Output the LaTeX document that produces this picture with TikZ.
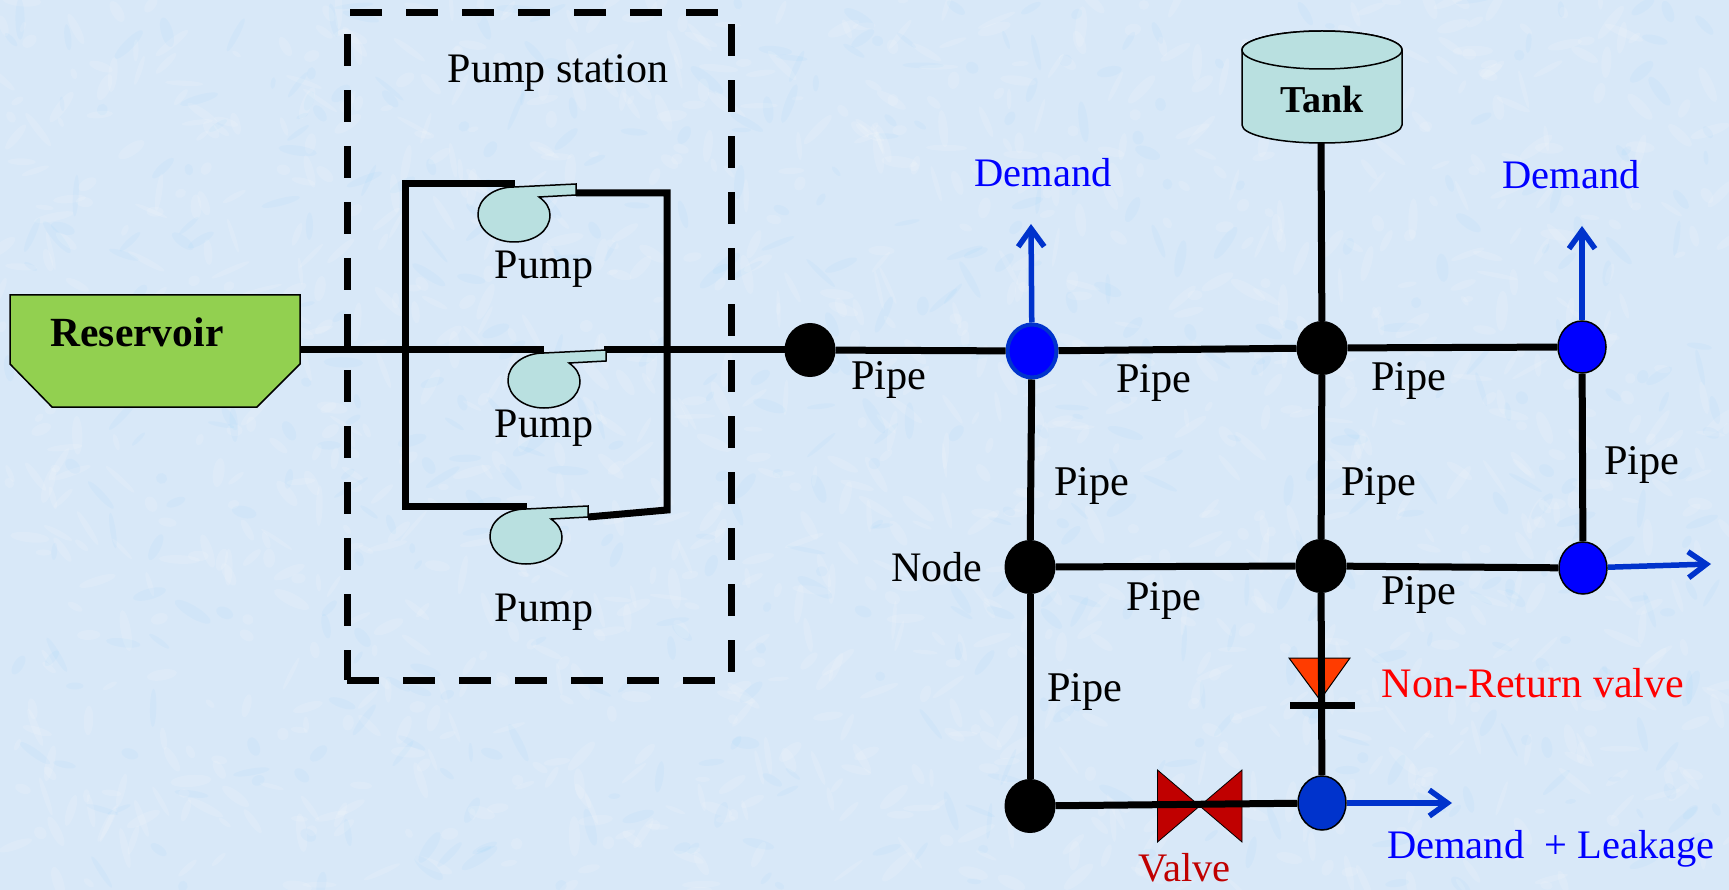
\documentclass[tikz,border=0pt]{standalone}
\usepackage{fontspec}
\setmainfont{Liberation Serif}
\usetikzlibrary{shapes.geometric,arrows.meta}
\definecolor{bgblue}{RGB}{216,232,248}
\definecolor{flowblue}{RGB}{0,51,204}
\definecolor{pureblue}{RGB}{0,0,255}
\definecolor{valvered}{RGB}{192,0,0}
\definecolor{nrvred}{RGB}{255,60,0}
\definecolor{tealfill}{RGB}{185,224,224}
\definecolor{resgreen}{RGB}{146,208,80}
\newcommand{\bigtext}{\fontsize{42}{43}\selectfont}
\newcommand{\demandtext}{\fontsize{40.5}{41}\selectfont}
\newcommand{\pipetext}{\fontsize{42.3}{44}\selectfont}
\newcommand{\boldtext}{\fontsize{38}{39}\selectfont\bfseries}
\newcommand{\resbold}{\fontsize{41.5}{42}\selectfont\bfseries}
\tikzset{
  pipe/.style={line width=7pt,black},
  flow/.style={line width=5.5pt,flowblue,-{Straight Barb[length=18pt,width=26pt,line width=5.5pt]}},
  blacknode/.style={ellipse,fill=black,draw=black,line width=1pt,inner sep=0pt,minimum width=50pt,minimum height=53pt},
  bluenode/.style={ellipse,fill=pureblue,draw=black,line width=1.5pt,inner sep=0pt,minimum width=48pt,minimum height=52pt},
  lbl/.style={anchor=base,inner sep=0pt,font=\bigtext},
  demandlbl/.style={anchor=base,inner sep=0pt,font=\demandtext,text=pureblue},
  pipelbl/.style={anchor=base,inner sep=0pt,font=\pipetext},
  boldlbl/.style={anchor=base,inner sep=0pt,font=\boldtext},
  pumpshape/.pic={
    \path[draw=black,fill=tealfill,line width=1.5pt]
      (0,0) -- (62,-3) -- (62,8) -- (25,10)
      .. controls (32,15) and (36,21) .. (36,28)
      .. controls (36,44) and (20,55) .. (0,55)
      .. controls (-20,55) and (-36,43) .. (-36,27)
      .. controls (-36,12) and (-20,0) .. (0,0) -- cycle;
  }
}
\begin{document}
\begin{tikzpicture}[x=1pt,y=-1pt]
\useasboundingbox (0,0) rectangle (1729,890);
\fill[bgblue] (0,0) rectangle (1729,890);
\pgfmathsetseed{4217}
\foreach \i in {1,...,1800}{
  \pgfmathsetmacro{\px}{rnd*1729}
  \pgfmathsetmacro{\py}{rnd*890}
  \pgfmathsetmacro{\ra}{5+rnd*16}
  \pgfmathsetmacro{\rb}{2+rnd*4}
  \pgfmathsetmacro{\rt}{rnd*180}
  \pgfmathsetmacro{\kind}{rnd}
  \ifdim\kind pt<0.7pt
    \fill[white,opacity=.13,rotate around={\rt:(\px,\py)}] (\px,\py) ellipse [x radius=\ra,y radius=\rb];
  \else
    \fill[blue!35!cyan,opacity=.03,rotate around={\rt:(\px,\py)}] (\px,\py) ellipse [x radius=\ra,y radius=\rb];
  \fi
}
\clip (0,0) rectangle (1729,890);

% pump station box
\node[draw=black,line width=7pt,dash pattern=on 32pt off 24pt,rectangle,inner sep=0pt,minimum width=384pt,minimum height=667pt] (station) at (539,346.5) {};
\node[lbl] (stationlabel) at (558,83) {Pump station};

% reservoir
\path[draw=black,fill=resgreen,line width=1.5pt] (10,295) -- (300,295) -- (300,364) -- (257,407) -- (52,407) -- (10,364) -- cycle;
\node[anchor=base,inner sep=0pt,font=\resbold] (reslabel) at (137,347) {Reservoir};
\coordinate (resout) at (300,350);

% junction nodes
\node[blacknode] (n0) at (810,350) {};
\node[bluenode,draw=flowblue,line width=4pt,minimum width=49pt,minimum height=53pt] (n1) at (1032,351) {};
\node[blacknode] (n2) at (1322,348) {};
\node[bluenode] (n3) at (1582,347) {};
\node[blacknode] (n4) at (1030,567) {};
\node[blacknode] (n5) at (1321,566) {};
\node[bluenode] (n6) at (1583,568) {};
\node[blacknode] (n7) at (1030,806) {};
\node[bluenode,fill=flowblue,minimum height=54pt] (n8) at (1322,803) {};

% tank
\path[draw=black,fill=tealfill,line width=1.5pt] (1242,50) -- (1242,125) arc[start angle=180,end angle=360,x radius=80,y radius=-18] -- (1402,50) arc[start angle=0,end angle=180,x radius=80,y radius=-19] -- cycle;
\path[draw=black,fill=tealfill,line width=1.5pt] (1322,50) ellipse [x radius=80,y radius=19];
\node[boldlbl] (tanklabel) at (1322,113) {Tank};
\coordinate (tankout) at (1321,143);

% pump station pipes
\coordinate (tl) at (405,184);
\coordinate (tr) at (667,193);
\coordinate (bl) at (405,506);
\coordinate (br) at (667,510);
\coordinate (p1in) at (515,184);
\coordinate (p1out) at (576,193);
\coordinate (p2in) at (544,350);
\coordinate (p2out) at (604,350);
\coordinate (p3in) at (527,506);
\coordinate (p3out) at (588,517);
\draw[pipe,line join=miter] (p1in) -- (tl) -- (bl) -- (p3in);
\draw[pipe,line join=miter] (p1out) -- (tr) -- (br) -- (p3out);
\draw[pipe] (resout) -- (p2in);
\draw[pipe] (p2out) -- (n0);
\pic at (514,187) {pumpshape};
\pic at (544,353) {pumpshape};
\pic at (526,509) {pumpshape};
\node[lbl] (pl1) at (544,279) {Pump};
\node[lbl] (pl2) at (544,437) {Pump};
\node[lbl] (pl3) at (544,621) {Pump};

% network pipes
\draw[pipe] (n0) -- (n1);
\draw[pipe] (n1) -- (n2);
\draw[pipe] (n2) -- (n3);
\draw[pipe] (tankout) -- (n2);
\draw[pipe] (n1) -- (n4);
\draw[pipe] (n2) -- (n5);
\draw[pipe] (n3) -- (n6);
\draw[pipe] (n4) -- (n5);
\draw[pipe] (n5) -- (n6);
\draw[pipe] (n4) -- (n7);

% valve (under the pipe)
\path[draw=black,fill=valvered,line width=.8pt] (1157.5,770) -- (1242,842) -- (1242,770) -- (1157.5,842) -- cycle;
\draw[pipe] (n7) -- (n8);

% non-return valve
\path[draw=black,fill=nrvred,line width=1pt] (1289,658) -- (1350,658) -- (1320,700) -- cycle;
\draw[pipe] (n5) -- (n8);
\coordinate (barl) at (1290,705);
\coordinate (barr) at (1355,705);
\draw[pipe] (barl) -- (barr);

% demand arrows
\coordinate (d1) at (1031,224);
\coordinate (d2) at (1582,226);
\coordinate (d3) at (1711,564);
\coordinate (d4) at (1452,803);
\draw[flow] (n1) -- (d1);
\draw[flow] (n3) -- (d2);
\draw[flow] (n6) -- (d3);
\draw[flow] (n8) -- (d4);

% labels
\node[demandlbl] (dl1) at (1043,187) {Demand};
\node[demandlbl] (dl2) at (1571,189) {Demand};
\node[demandlbl] (dl3) at (1551,858) {Demand\ \ + Leakage};
\node[lbl,text=red] (nrvl) at (1533,697) {Non-Return valve};
\node[demandlbl,text=valvered] (vl) at (1184.5,881) {Valve};
\node[lbl] (nodel) at (937,581) {Node};
\node[pipelbl] (a1) at (889,389) {Pipe};
\node[pipelbl] (a2) at (1154,392) {Pipe};
\node[pipelbl] (a3) at (1409,391) {Pipe};
\node[pipelbl] (a4) at (1092,495) {Pipe};
\node[pipelbl] (a5) at (1379,495) {Pipe};
\node[pipelbl] (a6) at (1642,474) {Pipe};
\node[pipelbl] (a7) at (1164,610) {Pipe};
\node[pipelbl] (a8) at (1419,604) {Pipe};
\node[pipelbl] (a9) at (1085,701) {Pipe};
\end{tikzpicture}
\end{document}
